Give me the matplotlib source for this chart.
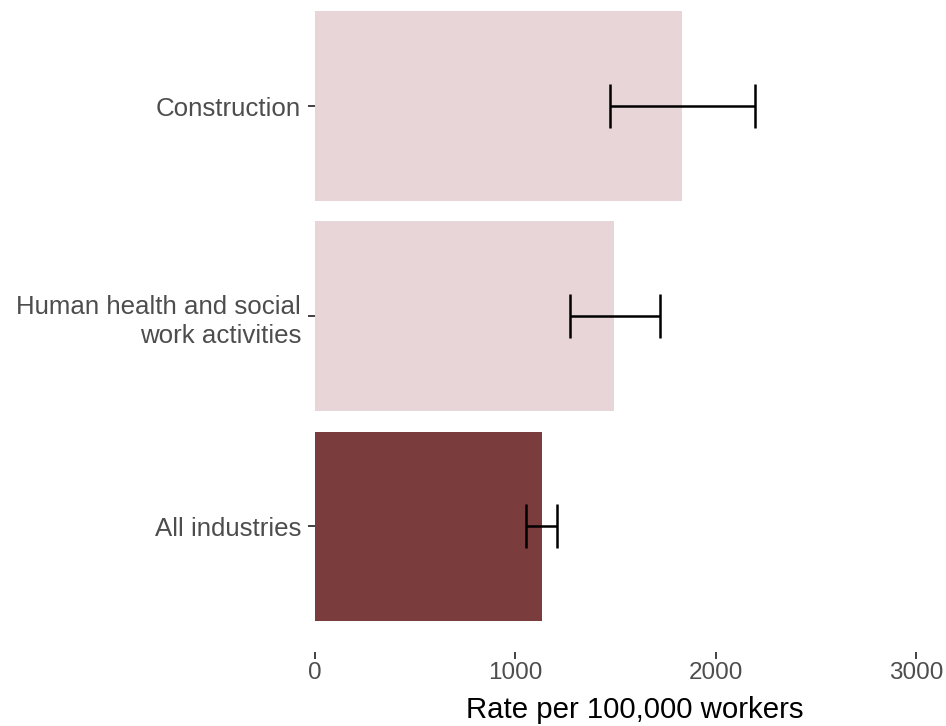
import matplotlib
matplotlib.use("Agg")
import matplotlib.pyplot as plt

plt.rcParams['font.family'] = ['Liberation Sans', 'DejaVu Sans']

# Data (bottom to top)
industries = ["All industries", "Human health and social\nwork activities", "Construction"]
rates = [1132, 1493, 1833]
lowerCI = [1052, 1273, 1475]
upperCI = [1210, 1722, 2195]
barColors = ["#7A3C3C", "#E8D5D7", "#E8D5D7"]
xTicks = [0, 1000, 2000, 3000]

fig = plt.figure(figsize=(9.46, 7.26), dpi=100)
# panel: x from 315px to right edge, y from -20px to 652px
ax = fig.add_axes([315 / 946, (726 - 652) / 726, (946 - 315) / 946, 672 / 726])

positions = list(range(len(industries)))
ax.barh(positions, rates, height=0.9, color=barColors, zorder=1)

errLow = [r - l for r, l in zip(rates, lowerCI)]
errHigh = [u - r for r, u in zip(rates, upperCI)]
ax.errorbar(rates, positions, xerr=[errLow, errHigh], fmt='none', ecolor='black',
            elinewidth=1.8, capsize=15.5, capthick=1.8, zorder=2)

ax.set_xlim(0, (946 - 315) / 0.2003)
ax.set_ylim(-0.6, 2.6)
ax.set_xticks(xTicks)
ax.set_xticklabels([str(t) for t in xTicks])
ax.set_yticks(positions)
ax.set_yticklabels(industries)

for spine in ax.spines.values():
    spine.set_visible(False)

ax.tick_params(axis='x', length=5, width=1.3, color='#333333', pad=2,
               labelsize=17.5, labelcolor='#4D4D4D')
ax.tick_params(axis='y', length=5, width=1.3, color='#333333', pad=5,
               labelsize=18.6, labelcolor='#4D4D4D')
for lbl in ax.get_yticklabels():
    lbl.set_horizontalalignment('right')
    lbl.set_multialignment('right')
    lbl.set_linespacing(1.3)

fig.text(635 / 946, 1 - 718 / 726, "Rate per 100,000 workers", ha='center',
         va='baseline', fontsize=21.2, color='black')

fig.savefig("out.png", dpi=100)
